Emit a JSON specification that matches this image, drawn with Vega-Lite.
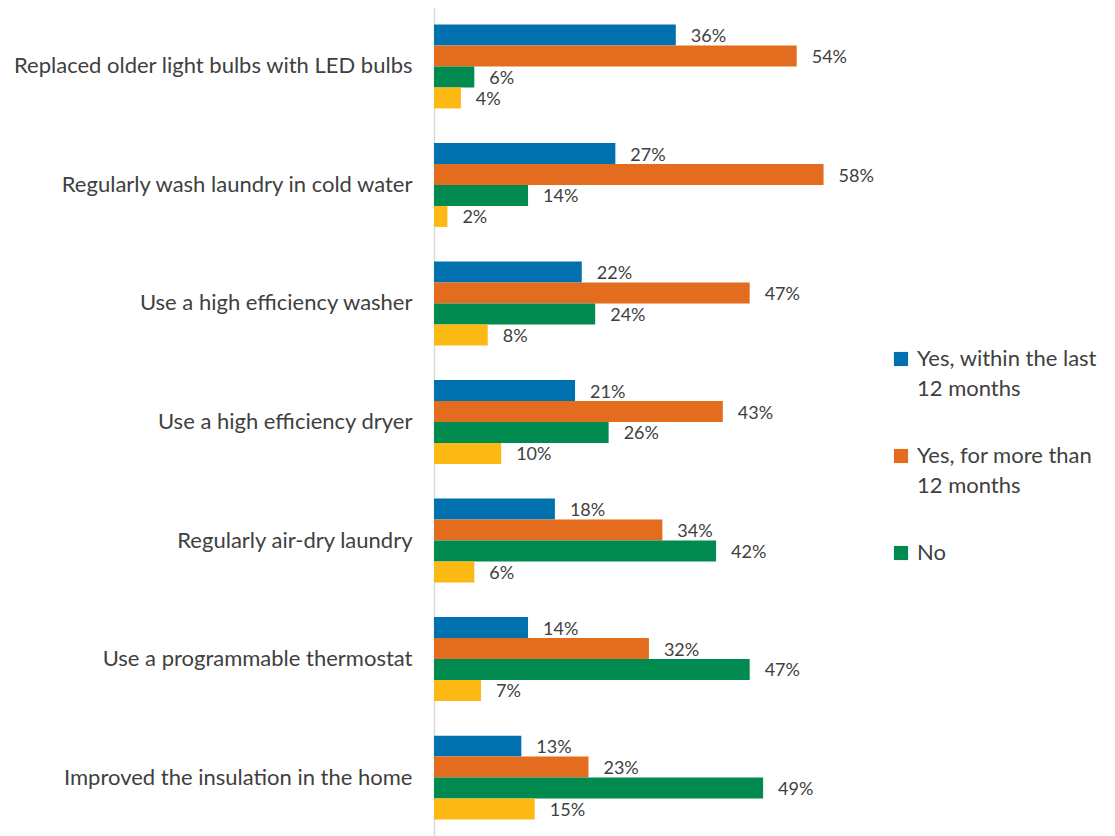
{
  "$schema": "https://vega.github.io/schema/vega-lite/v6.json",
  "width": 403,
  "height": 828,
  "autosize": "none",
  "padding": {"left": 434, "top": 8, "right": 278, "bottom": 0},
  "background": "white",
  "config": {"view": {"stroke": null}, "font": "Lato"},
  "data": {"values": [
    {"item": "Replaced older light bulbs with LED bulbs", "answer": "Yes, within the last 12 months", "pct": 36},
    {"item": "Replaced older light bulbs with LED bulbs", "answer": "Yes, for more than 12 months", "pct": 54},
    {"item": "Replaced older light bulbs with LED bulbs", "answer": "No", "pct": 6},
    {"item": "Replaced older light bulbs with LED bulbs", "answer": "Don't know", "pct": 4},
    {"item": "Regularly wash laundry in cold water", "answer": "Yes, within the last 12 months", "pct": 27},
    {"item": "Regularly wash laundry in cold water", "answer": "Yes, for more than 12 months", "pct": 58},
    {"item": "Regularly wash laundry in cold water", "answer": "No", "pct": 14},
    {"item": "Regularly wash laundry in cold water", "answer": "Don't know", "pct": 2},
    {"item": "Use a high efficiency washer", "answer": "Yes, within the last 12 months", "pct": 22},
    {"item": "Use a high efficiency washer", "answer": "Yes, for more than 12 months", "pct": 47},
    {"item": "Use a high efficiency washer", "answer": "No", "pct": 24},
    {"item": "Use a high efficiency washer", "answer": "Don't know", "pct": 8},
    {"item": "Use a high efficiency dryer", "answer": "Yes, within the last 12 months", "pct": 21},
    {"item": "Use a high efficiency dryer", "answer": "Yes, for more than 12 months", "pct": 43},
    {"item": "Use a high efficiency dryer", "answer": "No", "pct": 26},
    {"item": "Use a high efficiency dryer", "answer": "Don't know", "pct": 10},
    {"item": "Regularly air-dry laundry", "answer": "Yes, within the last 12 months", "pct": 18},
    {"item": "Regularly air-dry laundry", "answer": "Yes, for more than 12 months", "pct": 34},
    {"item": "Regularly air-dry laundry", "answer": "No", "pct": 42},
    {"item": "Regularly air-dry laundry", "answer": "Don't know", "pct": 6},
    {"item": "Use a programmable thermostat", "answer": "Yes, within the last 12 months", "pct": 14},
    {"item": "Use a programmable thermostat", "answer": "Yes, for more than 12 months", "pct": 32},
    {"item": "Use a programmable thermostat", "answer": "No", "pct": 47},
    {"item": "Use a programmable thermostat", "answer": "Don't know", "pct": 7},
    {"item": "Improved the insulation in the home", "answer": "Yes, within the last 12 months", "pct": 13},
    {"item": "Improved the insulation in the home", "answer": "Yes, for more than 12 months", "pct": 23},
    {"item": "Improved the insulation in the home", "answer": "No", "pct": 49},
    {"item": "Improved the insulation in the home", "answer": "Don't know", "pct": 15}
  ]},
  "transform": [{"calculate": "datum.pct + '%'", "as": "lbl"}],
  "encoding": {
    "y": {
      "field": "item", "type": "nominal", "sort": null, "title": null,
      "scale": {"paddingInner": 0.293, "paddingOuter": 0.14},
      "axis": {"ticks": false, "labelFontSize": 22, "labelColor": "#404040", "labelPadding": 22, "domainColor": "#d9d9d9", "domainWidth": 1.5, "labelLimit": 500, "labelFont": "Lato"}
    },
    "yOffset": {
      "field": "answer", "type": "nominal",
      "sort": ["Yes, within the last 12 months", "Yes, for more than 12 months", "No", "Don't know"],
      "scale": {"paddingInner": 0}
    },
    "x": {"field": "pct", "type": "quantitative", "scale": {"domain": [0, 60]}, "axis": null}
  },
  "layer": [
    {
      "mark": {"type": "bar"},
      "encoding": {
        "color": {
          "field": "answer", "type": "nominal",
          "scale": {
            "domain": ["Yes, within the last 12 months", "Yes, for more than 12 months", "No", "Don't know"],
            "range": ["#0070AF", "#E36C1F", "#008A4F", "#FDB913"]
          },
          "legend": {
            "title": null,
            "values": ["Yes, within the last 12 months", "Yes, for more than 12 months", "No"],
            "orient": "none", "legendX": 456, "legendY": 340,
            "symbolType": "square", "symbolSize": 200, "symbolStrokeWidth": 0,
            "labelFontSize": 22, "labelColor": "#404040", "labelFont": "Lato",
            "labelLimit": 300, "rowPadding": 45, "labelOffset": 5,
            "labelExpr": "datum.label == 'Yes, within the last 12 months' ? ['Yes, within the last', '12 months'] : datum.label == 'Yes, for more than 12 months' ? ['Yes, for more than', '12 months'] : datum.label",
            "encode": {"labels": {"update": {"lineHeight": {"value": 30}}}}
          }
        }
      }
    },
    {
      "mark": {"type": "text", "align": "left", "baseline": "middle", "dx": 15, "dy": 2, "fontSize": 18, "color": "#404040", "font": "Lato"},
      "encoding": {
        "text": {"field": "lbl", "type": "nominal"},
        "detail": {"field": "answer"}
      }
    }
  ]
}
